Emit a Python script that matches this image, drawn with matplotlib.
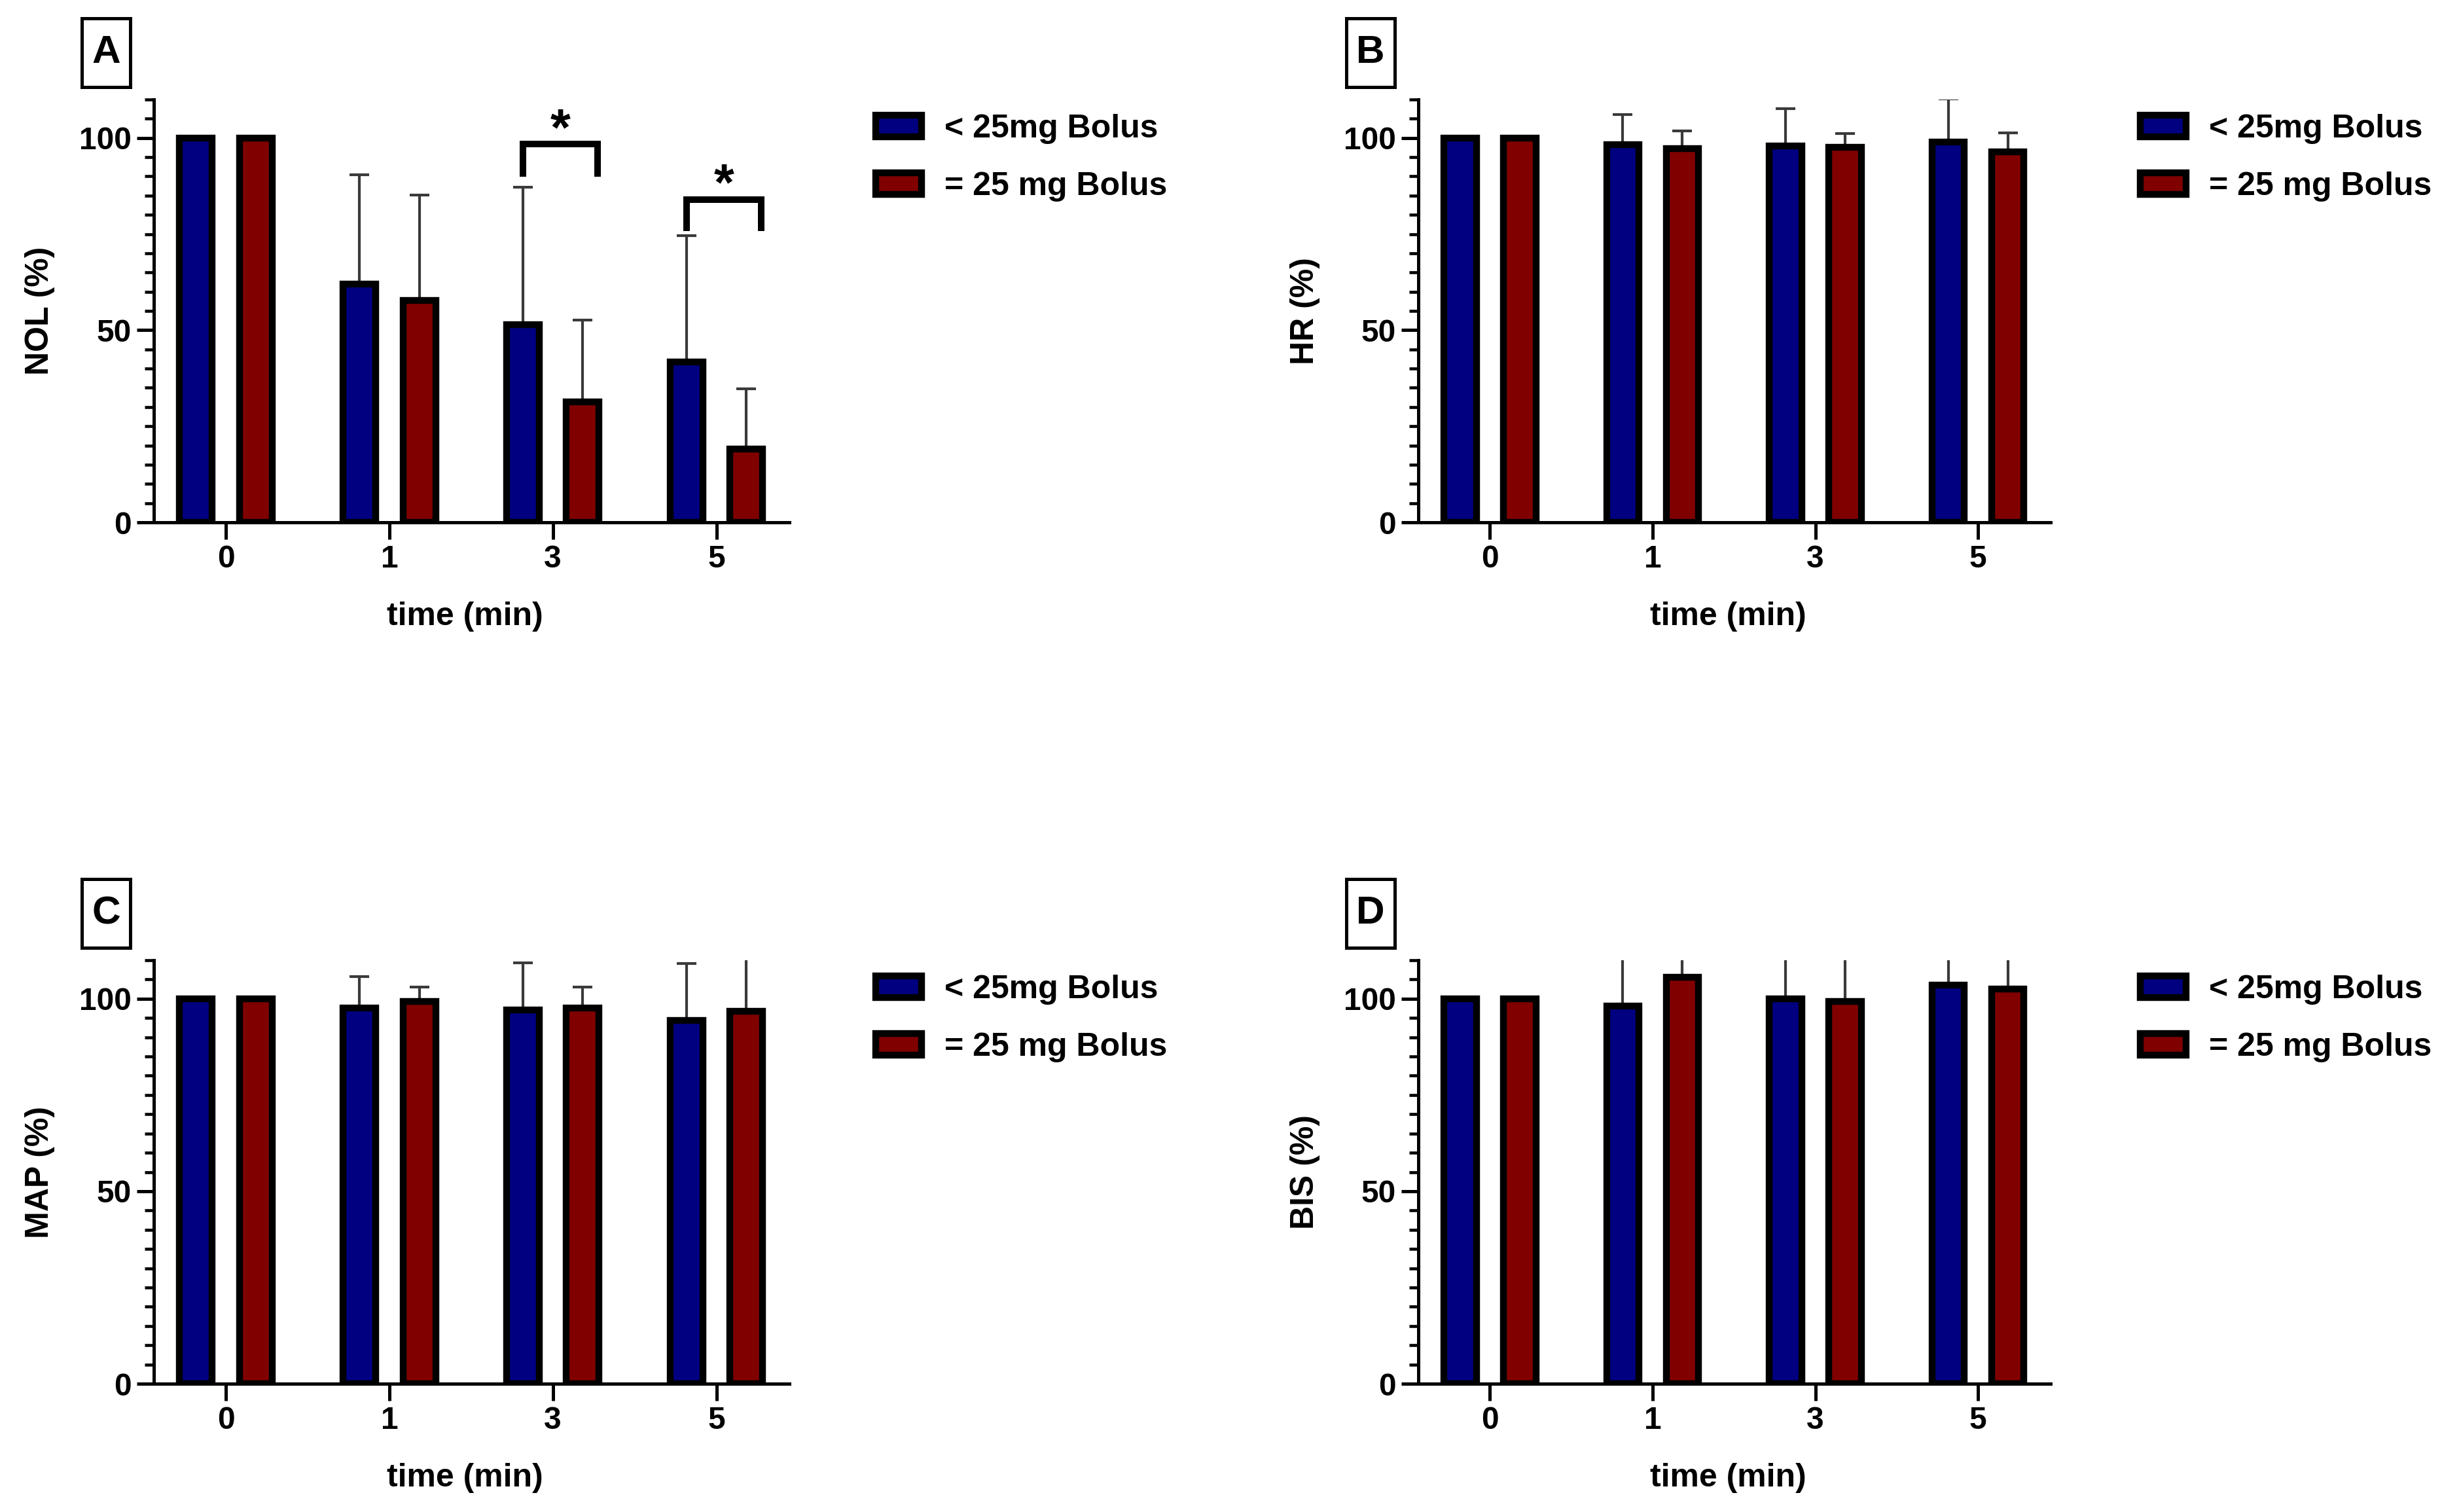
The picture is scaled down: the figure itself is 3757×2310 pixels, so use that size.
import numpy as np
import matplotlib
matplotlib.use("Agg")
import matplotlib.pyplot as plt
from matplotlib.patches import Rectangle, Patch
from matplotlib.ticker import MultipleLocator

# data (mean and upper SD, % of baseline)
times = ["0", "1", "3", "5"]
groups = ["< 25mg Bolus", "= 25 mg Bolus"]

nol_lo = [100, 62.0, 51.4, 41.7]
nol_lo_sd = [0, 28.4, 35.7, 32.8]
nol_hi = [100, 57.7, 31.4, 19.0]
nol_hi_sd = [0, 27.5, 21.3, 15.8]

hr_lo = [100, 98.2, 97.9, 99.0]
hr_lo_sd = [0, 7.8, 9.8, 11.2]
hr_hi = [100, 97.3, 97.6, 96.3]
hr_hi_sd = [0, 4.6, 3.5, 5.0]

map_lo = [100, 97.6, 97.1, 94.3]
map_lo_sd = [0, 8.2, 12.2, 14.8]
map_hi = [100, 99.3, 97.6, 96.7]
map_hi_sd = [0, 3.7, 5.4, 16.0]

bis_lo = [100, 98.1, 100.0, 103.6]
bis_lo_sd = [0, 15.0, 14.0, 12.0]
bis_hi = [100, 105.6, 99.3, 102.6]
bis_hi_sd = [0, 9.0, 13.0, 10.0]

# significance brackets on panel A: (time index, bracket height, leg bottom, star y)
sig_A = [(2, 98.4, 90.7, 105.2), (3, 84.0, 76.6, 90.9)]

BLUE = "#000080"
RED = "#800000"

plt.rcParams["font.family"] = ["Liberation Sans", "DejaVu Sans"]
plt.rcParams["font.weight"] = "bold"
plt.rcParams["axes.labelweight"] = "bold"

W, H = 3757, 2310
fig = plt.figure(figsize=(W / 300, H / 300), dpi=300)

# axes boxes in pixels: left, top, right, bottom
boxes = {
    "A": (235, 152, 1206, 798),
    "B": (2167, 152, 3133, 798),
    "C": (235, 1467, 1206, 2114),
    "D": (2167, 1467, 3133, 2114),
}
panels = [
    ("A", "NOL (%)", nol_lo, nol_lo_sd, nol_hi, nol_hi_sd),
    ("B", "HR (%)", hr_lo, hr_lo_sd, hr_hi, hr_hi_sd),
    ("C", "MAP (%)", map_lo, map_lo_sd, map_hi, map_hi_sd),
    ("D", "BIS (%)", bis_lo, bis_lo_sd, bis_hi, bis_hi_sd),
]

x = np.arange(len(times))
off = 0.183
bw = 0.2
edge = 2.5

for name, ylab, lo, lo_sd, hi, hi_sd in panels:
    l, t, r, b = boxes[name]
    ax = fig.add_axes([l / W, 1 - b / H, (r - l) / W, (b - t) / H])

    ax.bar(x - off, lo, bw, color=BLUE, edgecolor="black", linewidth=edge, zorder=3)
    ax.bar(x + off, hi, bw, color=RED, edgecolor="black", linewidth=edge, zorder=3)
    ax.errorbar(x - off, lo, yerr=[np.zeros(len(lo)), lo_sd], fmt="none",
                ecolor="#3a3a3a", elinewidth=1.0, capsize=3.6, capthick=1.0, zorder=2)
    ax.errorbar(x + off, hi, yerr=[np.zeros(len(hi)), hi_sd], fmt="none",
                ecolor="#3a3a3a", elinewidth=1.0, capsize=3.6, capthick=1.0, zorder=2)

    ax.set_xlim(-0.44, 3.446)
    ax.set_ylim(0, 110)
    ax.set_xticks(x)
    ax.set_xticklabels(times)
    ax.set_yticks([0, 50, 100])
    ax.yaxis.set_minor_locator(MultipleLocator(5))
    for s in ["top", "right"]:
        ax.spines[s].set_visible(False)
    for s in ["left", "bottom"]:
        ax.spines[s].set_linewidth(1.2)
    ax.tick_params(axis="both", which="major", length=6.2, width=1.2, labelsize=11.5, pad=2)
    ax.tick_params(axis="y", which="minor", length=3.3, width=1.1)
    ax.tick_params(axis="x", which="minor", bottom=False)
    for lab in ax.get_xticklabels() + ax.get_yticklabels():
        lab.set_fontweight("bold")

    ax.set_ylabel(ylab, fontsize=12, fontweight="bold")
    ax.yaxis.set_label_coords(-0.155, 0.5)
    ax.set_xlabel("time (min)", fontsize=12, fontweight="bold")
    ax.xaxis.set_label_coords(0.49, -0.223)
    ax.xaxis.label.set_va("center")

    # panel letter in a box
    bx0, bx1 = l - 110, l - 36
    by0, by1 = t - 124, t - 19
    fig.add_artist(Rectangle((bx0 / W, 1 - by1 / H), (bx1 - bx0) / W, (by1 - by0) / H,
                             transform=fig.transFigure, fill=False,
                             edgecolor="black", linewidth=1.2))
    fig.text((bx0 + bx1) / 2 / W, 1 - (by0 + by1) / 2 / H, name, fontsize=14.5,
             fontweight="bold", ha="center", va="center")

    # legend
    handles = [Patch(facecolor=BLUE, edgecolor="black", linewidth=edge),
               Patch(facecolor=RED, edgecolor="black", linewidth=edge)]
    fig.legend(handles, groups, loc="center left",
               bbox_to_anchor=((l + 1103) / W, 1 - (t + 89) / H),
               bbox_transform=fig.transFigure, frameon=False, borderpad=0,
               borderaxespad=0, handlelength=1.4, handleheight=0.65,
               handletextpad=0.7, labelspacing=0.85,
               prop={"size": 12, "weight": "bold"})

    if name == "A":
        for i, yb, yl, ys in sig_A:
            x0 = i - off
            x1 = i + off + 0.09
            ax.plot([x0, x0, x1, x1], [yl, yb, yb, yl], color="black",
                    linewidth=2.4, solid_joinstyle="miter", zorder=4, clip_on=False)
            ax.text((x0 + x1) / 2, ys - 7.0, "*", fontsize=19, fontweight="bold",
                    ha="center", va="baseline", zorder=4)

fig.savefig("out.png", dpi=300, facecolor="white")
